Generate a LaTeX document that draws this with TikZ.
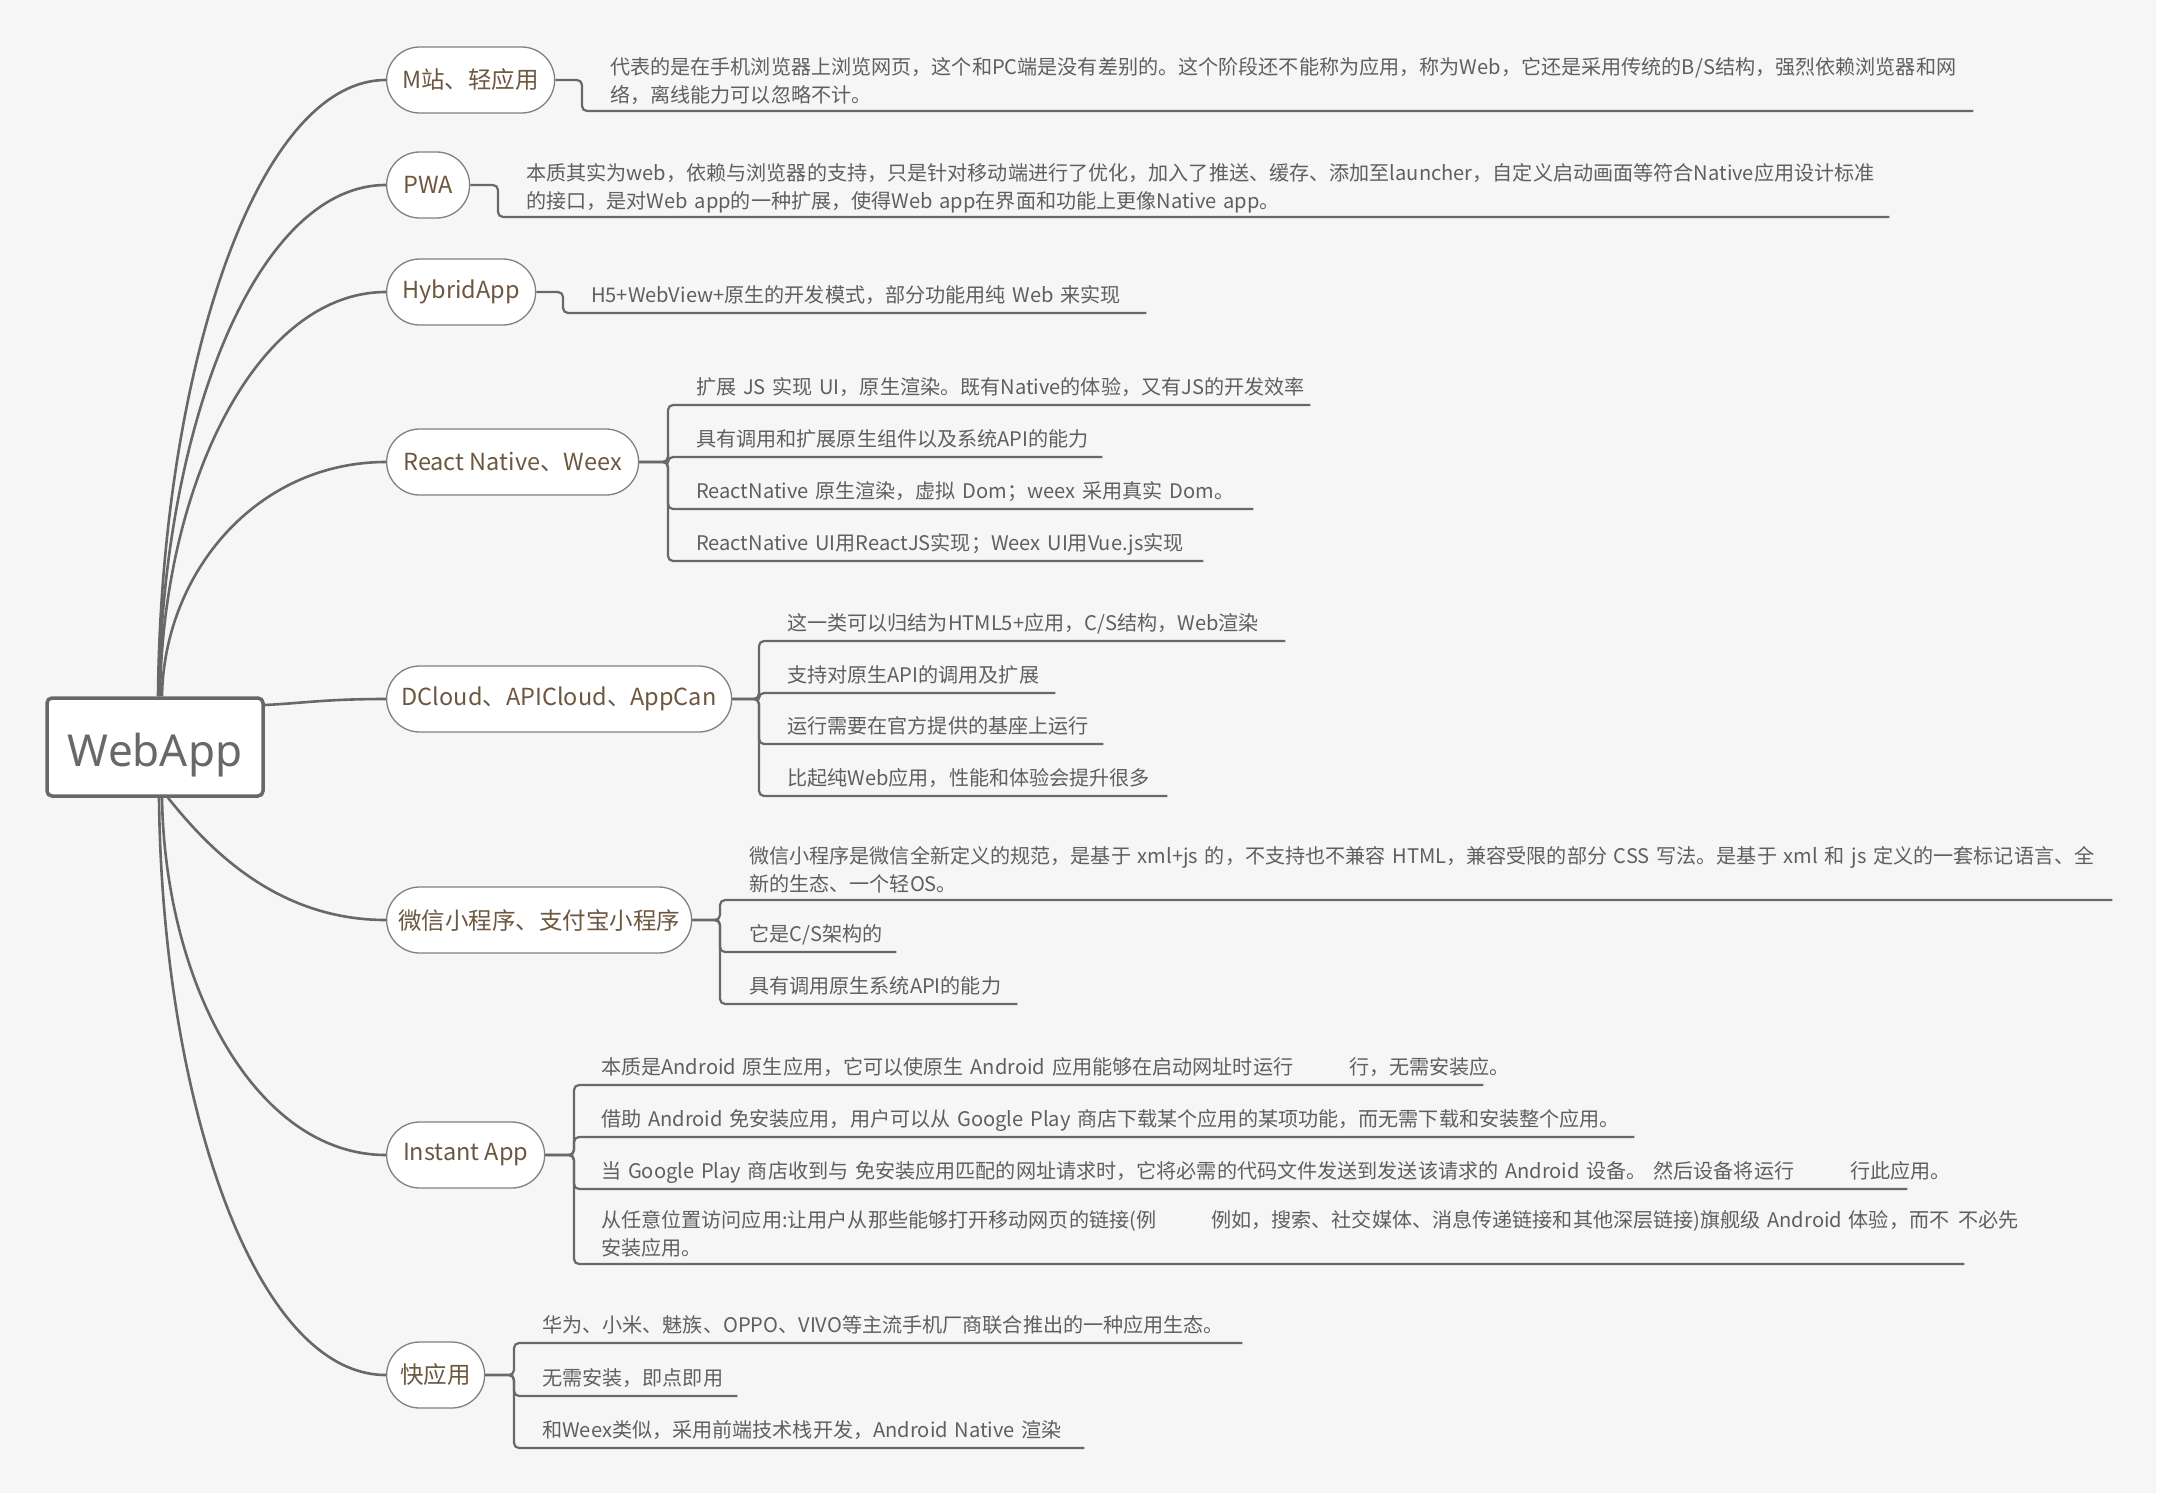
\documentclass[tikz,border=0pt]{standalone}
\usepackage{fontspec}
\usepackage{xcolor}
\newfontfamily\cjkfont{Noto Sans CJK SC}
\newfontfamily\rootfont{Noto Sans}
\definecolor{bgcolor}{HTML}{F6F6F6}
\definecolor{linecolor}{HTML}{686868}
\definecolor{bordercolor}{HTML}{808080}
\definecolor{topiccolor}{HTML}{6D573F}
\definecolor{leafcolor}{HTML}{5F5F5F}
\usetikzlibrary{positioning, calc}

\begin{document}
\begin{tikzpicture}[x=1pt, y=1pt,
  root/.style={rectangle, draw=linecolor, line width=3.5pt, rounded corners=5pt, fill=white, minimum width=216pt, minimum height=98pt, text height=38pt, text depth=0pt, font=\rootfont\fontsize{44}{50}\selectfont, text=linecolor},
  topic/.style={rectangle, draw=bordercolor, line width=1.3pt, rounded corners=33pt, fill=white, minimum height=66pt, inner xsep=0pt, anchor=west, font=\cjkfont\fontsize{23.5}{28}\selectfont, text=topiccolor},
  leaf/.style={anchor=south west, inner sep=0pt, align=left, text depth=10pt, font=\cjkfont\fontsize{20.1}{28}\selectfont, text=leafcolor},
  leaftwo/.style={leaf, text depth=36pt},
  curve/.style={draw=linecolor, line width=2.6pt},
  link/.style={draw=linecolor, line width=2.2pt, rounded corners=5pt}]

        % Hintergrund
        \fill[white] (0,0) rectangle (2169,-1502);
        \fill[bgcolor] (0,0) rectangle (2156,-1493);
        \useasboundingbox (0,0) rectangle (2169,-1502);

        % Hauptknoten
        \node[root] (web) at (155,-747) {WebApp};

        % Aeste
        \node[topic, minimum width=168pt] (mz) at (386,-80) {M站、轻应用};
        \node[topic, minimum width=83pt] (pwa) at (386,-185) {PWA};
        \node[topic, minimum width=149pt] (hy) at (386,-292) {HybridApp};
        \node[topic, minimum width=252pt] (rn) at (386,-462) {React Native、Weex};
        \node[topic, minimum width=345pt] (dc) at (386,-699) {DCloud、APICloud、AppCan};
        \node[topic, minimum width=305pt] (wx) at (386,-920) {微信小程序、支付宝小程序};
        \node[topic, minimum width=158pt] (ia) at (386,-1155) {Instant App};
        \node[topic, minimum width=98pt] (kyy) at (386,-1375) {快应用};

        % Kurven zum Hauptknoten
        \draw[curve] ([xshift=3pt]web.north) .. controls +(3,321) and +(-131,0) .. (mz.west);
        \draw[curve] ([xshift=4pt]web.north) .. controls +(3,267) and +(-131,0) .. (pwa.west);
        \draw[curve] ([xshift=5pt]web.north) .. controls +(3,211) and +(-130,0) .. (hy.west);
        \draw[curve] ([xshift=7pt]web.north) .. controls +(2,123) and +(-130,0) .. (rn.west);
        \draw[curve] ([yshift=42pt]web.east) .. controls +(40,2) and +(-60,0) .. (dc.west);
        \draw[curve] ([xshift=13pt]web.south) .. controls +(40,-50) and +(-110,0) .. (wx.west);
        \draw[curve] ([xshift=7pt]web.south) .. controls +(3,-187) and +(-130,0) .. (ia.west);
        \draw[curve] ([xshift=4pt]web.south) .. controls +(3,-301) and +(-132,0) .. (kyy.west);

        % M站
        \node[leaftwo, text width=1363pt] (mz1) at (610,-111) {\makebox[\linewidth][l]{代表的是在手机浏览器上浏览网页，这个和PC端是没有差别的。这个阶段还不能称为应用，称为Web，它还是采用传统的B/S结构，强烈依赖浏览器和网}\\\makebox[\linewidth][l]{络，离线能力可以忽略不计。}};
        \draw[link] (mz.east) -| ([xshift=-28pt]mz1.south west) -- (mz1.south east);

        % PWA
        \node[leaftwo, text width=1363pt] (pwa1) at (526,-217) {\makebox[\linewidth][l]{本质其实为web，依赖与浏览器的支持，只是针对移动端进行了优化，加入了推送、缓存、添加至launcher，自定义启动画面等符合Native应用设计标准}\\\makebox[\linewidth][l]{的接口，是对Web app的一种扩展，使得Web app在界面和功能上更像Native app。}};
        \draw[link] (pwa.east) -| ([xshift=-28pt]pwa1.south west) -- (pwa1.south east);

        % HybridApp
        \node[leaf, text width=555pt] (hy1) at (591,-313) {\makebox[\linewidth][l]{H5+WebView+原生的开发模式，部分功能用纯 Web 来实现}};
        \draw[link] (hy.east) -| ([xshift=-28pt]hy1.south west) -- (hy1.south east);

        % React Native
        \node[leaf, text width=614pt] (rn1) at (696,-405) {\makebox[\linewidth][l]{扩展 JS 实现 UI，原生渲染。既有Native的体验，又有JS的开发效率}};
        \node[leaf, text width=406pt, below=52pt of rn1.south west, anchor=south west] (rn2) {\makebox[\linewidth][l]{具有调用和扩展原生组件以及系统API的能力}};
        \node[leaf, text width=557pt, below=52pt of rn2.south west, anchor=south west] (rn3) {\makebox[\linewidth][l]{ReactNative 原生渲染，虚拟 Dom；weex 采用真实 Dom。}};
        \node[leaf, text width=507pt, below=52pt of rn3.south west, anchor=south west] (rn4) {\makebox[\linewidth][l]{ReactNative UI用ReactJS实现；Weex UI用Vue.js实现}};
        \foreach \i in {1,...,4}
          \draw[link] (rn.east) -| ([xshift=-28pt]rn\i.south west) -- (rn\i.south east);

        % DCloud
        \node[leaf, text width=498pt] (dc1) at (787,-641) {\makebox[\linewidth][l]{这一类可以归结为HTML5+应用，C/S结构，Web渲染}};
        \node[leaf, text width=268pt, below=52pt of dc1.south west, anchor=south west] (dc2) {\makebox[\linewidth][l]{支持对原生API的调用及扩展}};
        \node[leaf, text width=316pt, below=51pt of dc2.south west, anchor=south west] (dc3) {\makebox[\linewidth][l]{运行需要在官方提供的基座上运行}};
        \node[leaf, text width=380pt, below=52pt of dc3.south west, anchor=south west] (dc4) {\makebox[\linewidth][l]{比起纯Web应用，性能和体验会提升很多}};
        \foreach \i in {1,...,4}
          \draw[link] (dc.east) -| ([xshift=-28pt]dc\i.south west) -- (dc\i.south east);

        % Miniprogramme
        \node[leaftwo, text width=1363pt] (wx1) at (749,-900) {\makebox[\linewidth][l]{微信小程序是微信全新定义的规范，是基于 xml+js 的，不支持也不兼容 HTML，兼容受限的部分 CSS 写法。是基于 xml 和 js 定义的一套标记语言、全}\\\makebox[\linewidth][l]{新的生态、一个轻OS。}};
        \node[leaf, text width=147pt, below=52pt of wx1.south west, anchor=south west] (wx2) {\makebox[\linewidth][l]{它是C/S架构的}};
        \node[leaf, text width=268pt, below=52pt of wx2.south west, anchor=south west] (wx3) {\makebox[\linewidth][l]{具有调用原生系统API的能力}};
        \foreach \i in {1,...,3}
          \draw[link] (wx.east) -| ([xshift=-29pt]wx\i.south west) -- (wx\i.south east);

        % Instant App
        \node[leaf, text width=882pt] (ia1) at (601,-1085) {\makebox[\linewidth][l]{本质是Android 原生应用，它可以使原生 Android 应用能够在启动网址时运行\hspace{56pt}行，无需安装应。}};
        \node[leaf, text width=1033pt, below=52pt of ia1.south west, anchor=south west] (ia2) {\makebox[\linewidth][l]{借助 Android 免安装应用，用户可以从 Google Play 商店下载某个应用的某项功能，而无需下载和安装整个应用。}};
        \node[leaf, text width=1306pt, below=52pt of ia2.south west, anchor=south west] (ia3) {\makebox[\linewidth][l]{当 Google Play 商店收到与 免安装应用匹配的网址请求时，它将必需的代码文件发送到发送该请求的 Android 设备。 然后设备将运行\hspace{56pt}行此应用。}};
        \node[leaftwo, text width=1363pt, below=75pt of ia3.south west, anchor=south west] (ia4) {\makebox[\linewidth][l]{从任意位置访问应用:让用户从那些能够打开移动网页的链接(例\hspace{55pt}例如，搜索、社交媒体、消息传递链接和其他深层链接)旗舰级 Android 体验，而不\hspace{9pt}不必先}\\\makebox[\linewidth][l]{安装应用。}};
        \foreach \i in {1,...,4}
          \draw[link] (ia.east) -| ([xshift=-27pt]ia\i.south west) -- (ia\i.south east);

        % Schnellapps
        \node[leaf, text width=700pt] (kyy1) at (542,-1343) {\makebox[\linewidth][l]{华为、小米、魅族、OPPO、VIVO等主流手机厂商联合推出的一种应用生态。}};
        \node[leaf, text width=195pt, below=53pt of kyy1.south west, anchor=south west] (kyy2) {\makebox[\linewidth][l]{无需安装，即点即用}};
        \node[leaf, text width=542pt, below=52pt of kyy2.south west, anchor=south west] (kyy3) {\makebox[\linewidth][l]{和Weex类似，采用前端技术栈开发，Android Native 渲染}};
        \foreach \i in {1,...,3}
          \draw[link] (kyy.east) -| ([xshift=-28pt]kyy\i.south west) -- (kyy\i.south east);

\end{tikzpicture}
\end{document}
